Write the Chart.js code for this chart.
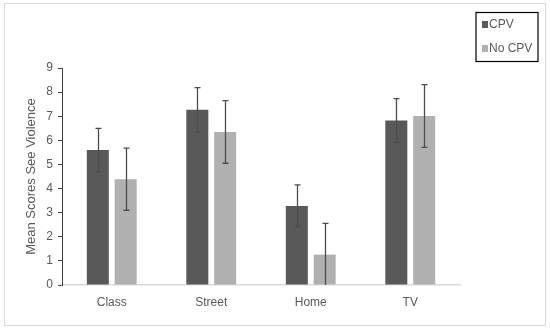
<!DOCTYPE html>
<html>
<head>
<meta charset="utf-8">
<script src="https://cdn.jsdelivr.net/npm/chart.js@4/dist/chart.umd.min.js"></script>
<style>
html,body{margin:0;padding:0;background:#fff;}
#wrap{width:550px;height:331px;position:relative;}
</style>
</head>
<body>
<div id="wrap"><canvas id="c" width="550" height="331"></canvas></div>
<script>
const categories = ["Class", "Street", "Home", "TV"];
const cpvMeans = [5.6, 7.27, 3.28, 6.82];
const cpvErrors = [0.9, 0.92, 0.87, 0.91];
const noCpvMeans = [4.39, 6.35, 1.26, 7.01];
const noCpvErrors = [1.29, 1.3, 1.3, 1.3];
const yTicks = [0, 1, 2, 3, 4, 5, 6, 7, 8, 9];

const errorData = [cpvErrors, noCpvErrors];
const FONT = 'Liberation Sans';

const borderPlugin = {
  id: 'outerBorder',
  beforeDraw(chart) {
    const ctx = chart.ctx;
    ctx.save();
    ctx.fillStyle = '#fff';
    ctx.fillRect(0, 0, chart.width, chart.height);
    ctx.strokeStyle = '#d9d9d9';
    ctx.lineWidth = 1;
    ctx.strokeRect(4.5, 3.5, 541, 322);
    ctx.restore();
  }
};

const errorBarPlugin = {
  id: 'errorBars',
  afterDatasetsDraw(chart) {
    const ctx = chart.ctx;
    const y = chart.scales.y;
    ctx.save();
    ctx.strokeStyle = '#4d4d4d';
    ctx.lineWidth = 1.3;
    chart.data.datasets.forEach((ds, di) => {
      const meta = chart.getDatasetMeta(di);
      meta.data.forEach((bar, i) => {
        const v = ds.data[i];
        const e = errorData[di][i];
        const x = Math.round(bar.x) + 0.5;
        const yt = y.getPixelForValue(v + e);
        const yb = y.getPixelForValue(Math.max(0, v - e));
        ctx.beginPath();
        ctx.moveTo(x, yt); ctx.lineTo(x, yb);
        ctx.moveTo(x - 3, yt); ctx.lineTo(x + 3, yt);
        if (v - e > 0) { ctx.moveTo(x - 3, yb); ctx.lineTo(x + 3, yb); }
        ctx.stroke();
      });
    });
    ctx.restore();
  }
};

const legendPlugin = {
  id: 'boxLegend',
  afterDraw(chart) {
    const ctx = chart.ctx;
    ctx.save();
    ctx.strokeStyle = '#000';
    ctx.lineWidth = 1.2;
    ctx.strokeRect(476, 12.5, 62, 49);
    ctx.font = '12px "' + FONT + '"';
    ctx.textBaseline = 'middle';
    ctx.textAlign = 'left';
    chart.data.datasets.forEach((ds, i) => {
      const cy = 24.5 + i * 24;
      ctx.fillStyle = ds.backgroundColor;
      ctx.fillRect(482, cy - 3.5, 6, 7);
      ctx.fillStyle = '#595959';
      ctx.fillText(ds.label, 489, cy);
    });
    ctx.restore();
  }
};

new Chart(document.getElementById('c'), {
  type: 'bar',
  data: {
    labels: categories,
    datasets: [
      { label: 'CPV', data: cpvMeans, backgroundColor: '#595959', borderWidth: 0 },
      { label: 'No CPV', data: noCpvMeans, backgroundColor: '#b0b0b0', borderWidth: 0 }
    ]
  },
  options: {
    responsive: false,
    animation: false,
    devicePixelRatio: 1,
    categoryPercentage: 0.56,
    barPercentage: 0.79,
    layout: { padding: { top: 68, left: 24, right: 90, bottom: 0 } },
    plugins: {
      legend: { display: false },
      tooltip: { enabled: false }
    },
    scales: {
      x: {
        grid: { display: false, drawTicks: false },
        border: { display: true, color: '#d9d9d9', width: 1.5 },
        ticks: { color: '#595959', font: { family: FONT, size: 12 }, padding: 10 },
        afterFit(scale) { scale.height = 46; }
      },
      y: {
        min: 0, max: 9,
        afterBuildTicks(scale) { scale.ticks = yTicks.map(v => ({ value: v })); },
        grid: { display: true, drawOnChartArea: false, drawTicks: true, tickLength: 4, color: '#404040' },
        border: { display: true, color: '#404040', width: 1 },
        ticks: { color: '#595959', font: { family: FONT, size: 12 }, padding: 5 },
        title: { display: true, text: 'Mean Scores See Violence', color: '#595959', font: { family: FONT, size: 13 }, padding: 0 },
        afterFit(scale) { scale.width = 38; }
      }
    }
  },
  plugins: [borderPlugin, errorBarPlugin, legendPlugin]
});
</script>
</body>
</html>
